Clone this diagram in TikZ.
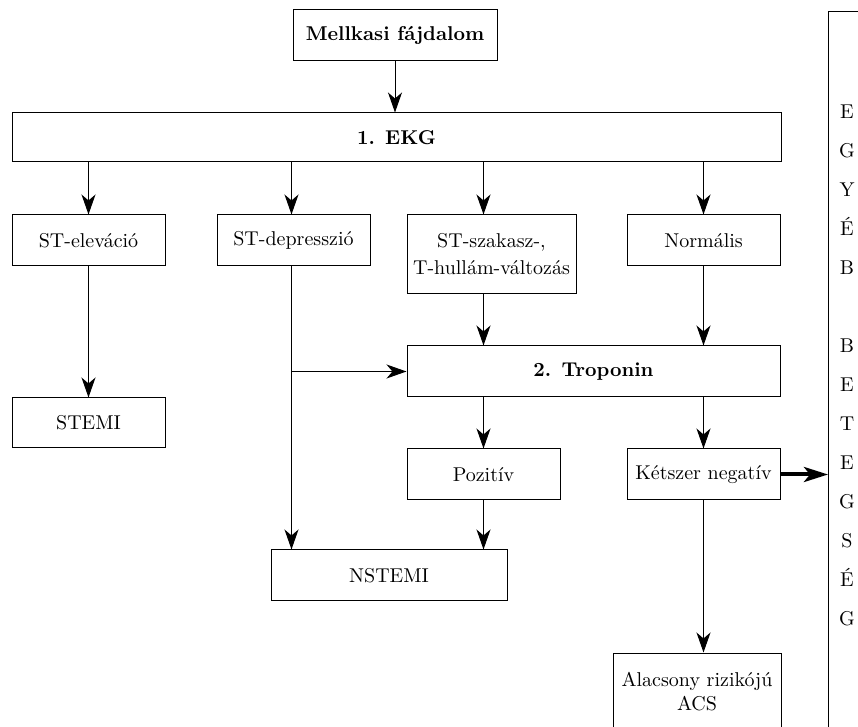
\documentclass[tikz,border=0pt]{standalone}
\usetikzlibrary{arrows.meta, calc}
\tikzset{%
  doboz/.style={draw, line width=0.5pt, minimum height=25.5pt, align=center, inner sep=2pt},
  nyil/.style={-{Stealth[length=10pt, width=7pt, inset=3pt]}, line width=0.5pt},
  vastag/.style={-{Stealth[length=12pt, width=7.5pt, inset=3pt]}, line width=2pt},
}
\begin{document}
\begin{tikzpicture}[x=0.5pt, y=-0.5pt]
\useasboundingbox (0,0) rectangle (858,727);

% Top box and the EKG bar
\node[doboz, minimum width=102pt, font=\bfseries] (mell) at (395,35.5) {Mellkasi fájdalom};
\node[doboz, minimum width=384.5pt, minimum height=24.5pt, font=\bfseries] (ekg) at (396.5,137.5) {1. EKG};

% Second row: the four EKG findings
\node[doboz, minimum width=76.5pt] (elev) at (88.5,240.5) {ST-eleváció};
\node[doboz, minimum width=76.5pt] (depr) at (293.5,240.5) {ST-depresszió};
\node[doboz, minimum width=84.5pt, minimum height=39.5pt] (szak) at (491.5,254.5) {ST-szakasz-,\\[1.5pt]T-hullám-változás};
\node[doboz, minimum width=76.5pt] (norm) at (703.5,240.5) {Normális};

% Troponin and what comes after
\node[doboz, minimum width=186.5pt, font=\bfseries] (trop) at (593.5,371.5) {2. Troponin};
\node[doboz, minimum width=76.5pt, minimum height=25pt] (stemi) at (88.5,423) {STEMI};
\node[doboz, minimum width=76.5pt] (poz) at (483.5,474.5) {Pozitív};
\node[doboz, minimum width=76.5pt] (neg) at (703.5,474.5) {Kétszer negatív};
\node[doboz, minimum width=118pt] (nstemi) at (389,575.5) {NSTEMI};
\node[doboz, minimum width=84pt, minimum height=39pt] (acs) at (697,692) {Alacsony rizikójú\\ACS};

% Right hand column (runs off the page)
\node[draw, line width=0.5pt, anchor=north west, minimum width=40pt, minimum height=370pt] (egyeb) at (828,11) {};
\node[font=\fontsize{10}{19.5}\selectfont, align=center, inner sep=0pt] (felirat) at (847,365.5)
  {E\\G\\Y\\É\\B\\[19.5pt]B\\E\\T\\E\\G\\S\\É\\G};

% Arrows from the top
\draw[nyil] (mell) -- (mell |- ekg.north);
\draw[nyil] (elev |- ekg.south) -- (elev);
\draw[nyil] ([xshift=-1pt]depr.north |- ekg.south) -- ([xshift=-1pt]depr.north);
\draw[nyil] (poz |- ekg.south) -- (poz |- szak.north);
\draw[nyil] (norm |- ekg.south) -- (norm);

% Into and out of troponin
\draw[nyil] (elev) -- (stemi);
\draw[nyil] (poz |- szak.south) -- (poz |- trop.north);
\draw[nyil] (norm) -- (norm |- trop.north);
\draw[nyil] ([xshift=-1pt]depr.south) -- ([xshift=-1pt]depr.south |- nstemi.north);
\draw[nyil] ([xshift=-1pt]depr.south |- trop.west) -- (trop.west);
\draw[nyil] (poz |- trop.south) -- (poz);
\draw[nyil] (neg |- trop.south) -- (neg);

% Last row
\draw[nyil] (poz) -- (poz |- nstemi.north);
\draw[nyil] (neg) -- (neg |- acs.north);
\draw[vastag] (neg.east) -- (neg.east -| egyeb.west);

\end{tikzpicture}
\end{document}
